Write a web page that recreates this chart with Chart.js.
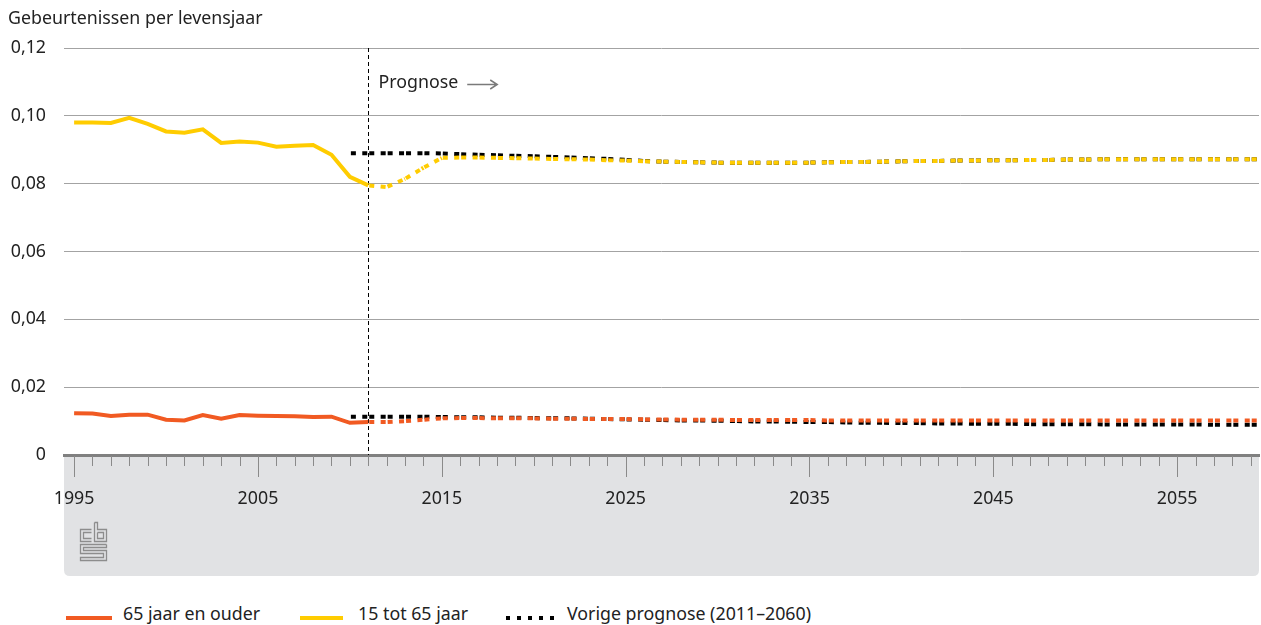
<!DOCTYPE html>
<html>
<head>
<meta charset="utf-8">
<script src="https://cdn.jsdelivr.net/npm/chart.js@4.4.1/dist/chart.umd.min.js"></script>
<style>
  body { margin: 0; background: #fff; font-family: "Noto Sans", sans-serif; }
  #wrap { position: relative; width: 1261px; height: 590px; }
  .legend { position: absolute; top: 601px; left: 0; width: 1261px; height: 24px; font-size: 17.8px; color: #222; }
  .legend span { position: absolute; top: 0; line-height: 24px; }
  .legend i { position: absolute; top: 15px; height: 4px; }
</style>
</head>
<body>
<div id="wrap"><canvas id="chart"></canvas></div>
<div class="legend">
  <i style="left:66px;width:46px;background:#f15a22"></i><span style="left:123px">65 jaar en ouder</span>
  <i style="left:300px;width:43px;background:#ffcc00"></i><span style="left:358px">15 tot 65 jaar</span>
  <i style="left:506px;width:48px;background:repeating-linear-gradient(90deg,#000 0 4px,transparent 4px 11px)"></i><span style="left:567px">Vorige prognose (2011–2060)</span>
</div>
<script>
// waargenomen 1995-2011
const yearsObs = [1995, 1996, 1997, 1998, 1999, 2000, 2001, 2002, 2003, 2004, 2005, 2006, 2007, 2008, 2009, 2010, 2011];
const young65Obs = [0.0980, 0.0980, 0.0979, 0.0994, 0.0976, 0.0954, 0.0950, 0.0960, 0.0920, 0.0924, 0.0921, 0.0909, 0.0912, 0.0914, 0.0885, 0.0820, 0.0795];
const old65Obs = [0.0123, 0.0122, 0.0115, 0.0119, 0.0119, 0.0104, 0.0102, 0.0118, 0.0107, 0.0118, 0.0116, 0.0115, 0.0114, 0.0112, 0.0113, 0.0095, 0.0097];

// prognose 2011-2060
const yearsProg = [2011, 2012, 2013, 2014, 2015, 2016, 2017, 2018, 2019, 2020,
  2021, 2022, 2023, 2024, 2025, 2026, 2027, 2028, 2029, 2030,
  2031, 2032, 2033, 2034, 2035, 2036, 2037, 2038, 2039, 2040,
  2041, 2042, 2043, 2044, 2045, 2046, 2047, 2048, 2049, 2050,
  2051, 2052, 2053, 2054, 2055, 2056, 2057, 2058, 2059, 2060];
const young65Prog = [0.0795, 0.0790, 0.0814, 0.0847, 0.0876, 0.0877, 0.0877, 0.0876, 0.0875, 0.0874,
  0.0873, 0.0872, 0.0871, 0.0869, 0.0868, 0.0866, 0.0865, 0.0864, 0.0863, 0.0862,
  0.0862, 0.0862, 0.0862, 0.0862, 0.0862, 0.0863, 0.0864, 0.0864, 0.0865, 0.0866,
  0.0867, 0.0867, 0.0868, 0.0868, 0.0869, 0.0869, 0.0870, 0.0870, 0.0871, 0.0871,
  0.0872, 0.0872, 0.0872, 0.0872, 0.0872, 0.0872, 0.0872, 0.0872, 0.0872, 0.0872];
const old65Prog = [0.0097, 0.0097, 0.0100, 0.0104, 0.0108, 0.0109, 0.0109, 0.0108, 0.0108, 0.0108,
  0.0107, 0.0107, 0.0106, 0.0106, 0.0106, 0.0105, 0.0105, 0.0104, 0.0104, 0.0104,
  0.0103, 0.0103, 0.0103, 0.0103, 0.0103, 0.0102, 0.0102, 0.0102, 0.0102, 0.0102,
  0.0102, 0.0102, 0.0102, 0.0102, 0.0102, 0.0102, 0.0102, 0.0102, 0.0102, 0.0102,
  0.0102, 0.0102, 0.0102, 0.0102, 0.0102, 0.0102, 0.0102, 0.0102, 0.0102, 0.0102];

// vorige prognose (2011-2060), vanaf 2010
const yearsPrev = [2010].concat(yearsProg);
const young65Prev = [0.0890, 0.0890, 0.0890, 0.0890, 0.0890, 0.0889, 0.0887, 0.0885, 0.0884, 0.0882, 0.0881,
  0.0879, 0.0877, 0.0875, 0.0873, 0.0870, 0.0867, 0.0865, 0.0864, 0.0863, 0.0862,
  0.0862, 0.0862, 0.0862, 0.0862, 0.0862, 0.0863, 0.0864, 0.0864, 0.0865, 0.0866,
  0.0867, 0.0867, 0.0868, 0.0868, 0.0869, 0.0869, 0.0870, 0.0870, 0.0871, 0.0871,
  0.0872, 0.0872, 0.0872, 0.0872, 0.0872, 0.0872, 0.0872, 0.0872, 0.0872, 0.0872];
const old65Prev = [0.0113, 0.0113, 0.0113, 0.0113, 0.0113, 0.0112, 0.0111, 0.0111, 0.0110, 0.0110, 0.0109,
  0.0108, 0.0108, 0.0107, 0.0106, 0.0105, 0.0104, 0.0103, 0.0102, 0.0102, 0.0101,
  0.0100, 0.0099, 0.0099, 0.0098, 0.0097, 0.0097, 0.0096, 0.0095, 0.0095, 0.0094,
  0.0094, 0.0093, 0.0093, 0.0092, 0.0092, 0.0092, 0.0091, 0.0091, 0.0091, 0.0091,
  0.0090, 0.0090, 0.0090, 0.0090, 0.0090, 0.0090, 0.0089, 0.0089, 0.0089, 0.0089];

const yTicks = [0, 0.02, 0.04, 0.06, 0.08, 0.10, 0.12];
const prognoseStart = 2011;

const ORANGE = '#f15a22';
const YELLOW = '#ffcc00';
const FONT = '"Noto Sans", sans-serif';
const FS = 17.8;

function pts(xs, ys) {
  return xs.map((x, i) => ({ x: x, y: ys[i] }));
}

// stippels per jaar: twee blokjes rond elk jaarpunt
const dash = [5, 2, 5, 6.4];

const decor = {
  id: 'decor',
  beforeDraw(chart) {
    const { ctx, chartArea } = chart;
    const l = chartArea.left, r = chartArea.right, t = chartArea.bottom, b = 576, rad = 6;
    ctx.save();
    ctx.fillStyle = '#e1e2e4';
    ctx.beginPath();
    ctx.moveTo(l, t);
    ctx.lineTo(r, t);
    ctx.lineTo(r, b - rad);
    ctx.quadraticCurveTo(r, b, r - rad, b);
    ctx.lineTo(l + rad, b);
    ctx.quadraticCurveTo(l, b, l, b - rad);
    ctx.closePath();
    ctx.fill();

    // titel
    ctx.fillStyle = '#222';
    ctx.font = FS + 'px ' + FONT;
    ctx.textBaseline = 'middle';
    ctx.fillText('Gebeurtenissen per levensjaar', 8, 19);

    // cbs logo
    ctx.strokeStyle = '#8d8d8d';
    ctx.lineWidth = 1.3;
    const ox = 80.5, oy = 522.5;
    const P = (arr) => {
      ctx.beginPath();
      arr.forEach((p, i) => i ? ctx.lineTo(ox + p[0], oy + p[1]) : ctx.moveTo(ox + p[0], oy + p[1]));
      ctx.stroke();
    };
    P([[11, 7], [0, 7], [0, 19], [11, 19]]);
    P([[11, 10], [3, 10], [3, 16], [11, 16]]);
    P([[14, 0], [14, 19], [26, 19], [26, 7], [17, 7], [17, 0], [14, 0]]);
    P([[17, 10], [23, 10], [23, 16], [17, 16], [17, 10]]);
    P([[26, 22], [0, 22], [0, 31], [23, 31], [23, 35], [0, 35], [0, 38], [26, 38], [26, 28], [3, 28], [3, 25], [26, 25], [26, 22]]);
    ctx.restore();
  },
  beforeDatasetsDraw(chart) {
    const { ctx, chartArea, scales } = chart;
    const xs = scales.x;
    ctx.save();
    // jaartikken
    ctx.strokeStyle = '#8a8a8a';
    ctx.lineWidth = 1;
    xs.ticks.forEach(tk => {
      const px = Math.round(xs.getPixelForValue(tk.value)) + 0.5;
      const major = (tk.value - 1995) % 10 === 0;
      ctx.beginPath();
      ctx.moveTo(px, chartArea.bottom + 1);
      ctx.lineTo(px, chartArea.bottom + (major ? 22 : 11));
      ctx.stroke();
    });
    // prognose lijn
    const vx = Math.round(xs.getPixelForValue(prognoseStart)) + 0.5;
    ctx.strokeStyle = '#000';
    ctx.setLineDash([4, 3]);
    ctx.beginPath();
    ctx.moveTo(vx, chartArea.top);
    ctx.lineTo(vx, chartArea.bottom);
    ctx.stroke();
    ctx.setLineDash([]);
    ctx.fillStyle = '#222';
    ctx.font = FS + 'px ' + FONT;
    ctx.textBaseline = 'middle';
    ctx.fillText('Prognose', vx + 10, 83);
    const tw = ctx.measureText('Prognose').width;
    const ax = vx + 10 + tw + 9;
    ctx.strokeStyle = '#7a7a7a';
    ctx.lineWidth = 1.5;
    ctx.beginPath();
    ctx.moveTo(ax, 84.5);
    ctx.lineTo(ax + 30, 84.5);
    ctx.moveTo(ax + 23, 80);
    ctx.lineTo(ax + 30, 84.5);
    ctx.lineTo(ax + 23, 89);
    ctx.stroke();
    ctx.restore();
  }
};

const line = (data, color, dashed) => {
  const ds = {
    data: data,
    borderColor: color,
    borderWidth: 4,
    borderDash: dashed ? dash : [],
    borderCapStyle: 'butt',
    borderJoinStyle: 'miter',
    pointRadius: 0,
    tension: 0,
    fill: false
  };
  if (dashed) {
    // elk jaarsegment apart tekenen zodat het patroon per jaar opnieuw begint
    ds.segment = { borderDashOffset: c => 6 + (c.p0DataIndex % 2) * 0.001 };
  }
  return ds;
};

// Chart.js tekent dataset 0 als laatste (bovenop)
new Chart(document.getElementById('chart'), {
  type: 'line',
  data: {
    datasets: [
      line(pts(yearsObs, young65Obs), YELLOW, false),
      line(pts(yearsObs, old65Obs), ORANGE, false),
      line(pts(yearsProg, young65Prog), YELLOW, true),
      line(pts(yearsProg, old65Prog), ORANGE, true),
      line(pts(yearsPrev, young65Prev), '#000', true),
      line(pts(yearsPrev, old65Prev), '#000', true)
    ]
  },
  options: {
    responsive: true,
    maintainAspectRatio: false,
    animation: false,
    layout: { padding: { top: 48, right: 2, left: 0, bottom: 0 } },
    plugins: { legend: { display: false }, tooltip: { enabled: false } },
    scales: {
      x: {
        type: 'linear',
        min: 1994.45,
        max: 2059.45,
        afterBuildTicks: axis => {
          const t = [];
          for (let y = 1995; y <= 2059; y++) t.push({ value: y });
          axis.ticks = t;
        },
        afterFit: axis => {
          axis.height = 135;
          axis.paddingLeft = 0;
          axis.paddingRight = 0;
        },
        grid: { display: true, drawOnChartArea: false, drawTicks: false },
        border: { display: true, color: '#808080', width: 3 },
        ticks: {
          autoSkip: false,
          maxRotation: 0,
          padding: 33,
          color: '#222',
          font: { family: FONT, size: FS },
          callback: v => ((v - 1995) % 10 === 0 ? String(v) : '')
        }
      },
      y: {
        min: 0,
        max: 0.12,
        afterBuildTicks: axis => { axis.ticks = yTicks.map(v => ({ value: v })); },
        afterFit: axis => { axis.width = 64; },
        grid: { color: '#a3a3a3', lineWidth: 1, drawTicks: false },
        border: { display: false },
        ticks: {
          padding: 18,
          color: '#222',
          font: { family: FONT, size: FS },
          callback: v => (v === 0 ? '0' : v.toFixed(2).replace('.', ','))
        }
      }
    }
  },
  plugins: [decor]
});
</script>
</body>
</html>
